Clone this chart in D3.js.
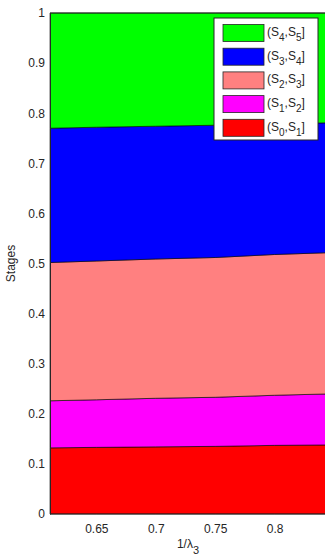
<!DOCTYPE html>
<html>
<head>
<meta charset="utf-8">
<script src="https://cdn.jsdelivr.net/npm/d3@7"></script>
<style>
  body { margin: 0; background: #fff; }
  svg { display: block; }
  text { font-family: "Liberation Sans", Arial, sans-serif; fill: #262626; }
</style>
</head>
<body>
<div id="chart"></div>
<script>
// x positions (1/lambda_3) and the thickness of each stage band
var xVals = [0.611, 0.65, 0.7, 0.75, 0.8, 0.85];
var s0s1 = [0.132, 0.133, 0.134, 0.135, 0.137, 0.138];
var s1s2 = [0.094, 0.095, 0.097, 0.098, 0.100, 0.102];
var s2s3 = [0.276, 0.277, 0.278, 0.279, 0.281, 0.282];
var s3s4 = [0.268, 0.267, 0.265, 0.264, 0.261, 0.259];
var s4s5 = [0.230, 0.228, 0.226, 0.224, 0.221, 0.219];

var seriesKeys = ["s0s1", "s1s2", "s2s3", "s3s4", "s4s5"];
var seriesSub = [[0, 1], [1, 2], [2, 3], [3, 4], [4, 5]];
var seriesColors = ["#ff0000", "#ff00ff", "#ff8080", "#0000ff", "#00ff00"];

var xTicks = [0.65, 0.7, 0.75, 0.8];
var yTicks = [0, 0.1, 0.2, 0.3, 0.4, 0.5, 0.6, 0.7, 0.8, 0.9, 1];

var W = 325, H = 556;
var mLeft = 50, mTop = 13, mBottom = 514;

var table = xVals.map(function(x, i) {
    return {x: x, s0s1: s0s1[i], s1s2: s1s2[i], s2s3: s2s3[i], s3s4: s3s4[i], s4s5: s4s5[i]};
});

var svg = d3.select("#chart").append("svg")
    .attr("width", W)
    .attr("height", H);

var x = d3.scaleLinear().domain([0.611, 0.85]).range([mLeft, 334]);
var y = d3.scaleLinear().domain([0, 1]).range([mBottom, mTop]);

var stack = d3.stack().keys(seriesKeys);
var layers = stack(table);

var area = d3.area()
    .x(function(d) { return x(d.data.x); })
    .y0(function(d) { return y(d[0]); })
    .y1(function(d) { return y(d[1]); });

svg.selectAll("path.layer")
    .data(layers)
    .enter()
    .append("path")
    .attr("class", "layer")
    .attr("d", area)
    .attr("fill", function(d, i) { return seriesColors[i]; })
    .attr("stroke", "#000")
    .attr("stroke-width", 0.6);

// axes box (left, bottom, top)
var xAxis = d3.axisBottom(x).tickValues(xTicks).tickSize(0).tickPadding(10)
    .tickFormat(function(d) { return String(d); });
var gx = svg.append("g").attr("transform", "translate(0," + mBottom + ")").call(xAxis);
gx.select(".domain").attr("stroke", "#262626").attr("d", "M" + mLeft + ",0H" + W);
gx.selectAll("text").attr("font-size", 12).attr("fill", "#262626")
    .attr("font-family", "Liberation Sans, Arial, sans-serif");

var yAxis = d3.axisLeft(y).tickValues(yTicks).tickSize(0).tickPadding(5)
    .tickFormat(function(d) { return String(d); });
var gy = svg.append("g").attr("transform", "translate(" + mLeft + ",0)").call(yAxis);
gy.select(".domain").attr("stroke", "#262626");
gy.selectAll("text").attr("font-size", 12).attr("fill", "#262626")
    .attr("font-family", "Liberation Sans, Arial, sans-serif");

svg.append("line")
    .attr("x1", mLeft).attr("x2", W)
    .attr("y1", mTop).attr("y2", mTop)
    .attr("stroke", "#262626");

// axis labels
var xl = svg.append("text")
    .attr("x", 188).attr("y", 548)
    .attr("text-anchor", "middle")
    .attr("font-size", 12);
xl.append("tspan").text("1/\u03bb");
xl.append("tspan").attr("dy", 6).attr("font-size", 11).text("3");

svg.append("text")
    .attr("transform", "translate(15," + (mTop + mBottom) / 2 + ") rotate(-90)")
    .attr("text-anchor", "middle")
    .attr("font-size", 12)
    .text("Stages");

// legend
var lg = svg.append("g").attr("transform", "translate(214,18)");
lg.append("rect")
    .attr("width", 104).attr("height", 122)
    .attr("fill", "#fff")
    .attr("stroke", "#262626");

var items = d3.range(seriesKeys.length).reverse();
items.forEach(function(k, i) {
    var cy = 15 + i * 23.7;
    lg.append("rect")
        .attr("x", 9).attr("y", cy - 8.5)
        .attr("width", 41).attr("height", 17)
        .attr("fill", seriesColors[k])
        .attr("stroke", "#262626")
        .attr("stroke-width", 0.8);
    var t = lg.append("text")
        .attr("x", 53).attr("y", cy + 3)
        .attr("font-size", 12);
    t.append("tspan").text("(S");
    t.append("tspan").attr("dy", 5).attr("font-size", 10).text(seriesSub[k][0]);
    t.append("tspan").attr("dy", -5).text(",S");
    t.append("tspan").attr("dy", 5).attr("font-size", 10).text(seriesSub[k][1]);
    t.append("tspan").attr("dy", -5).text("]");
});
</script>
</body>
</html>
